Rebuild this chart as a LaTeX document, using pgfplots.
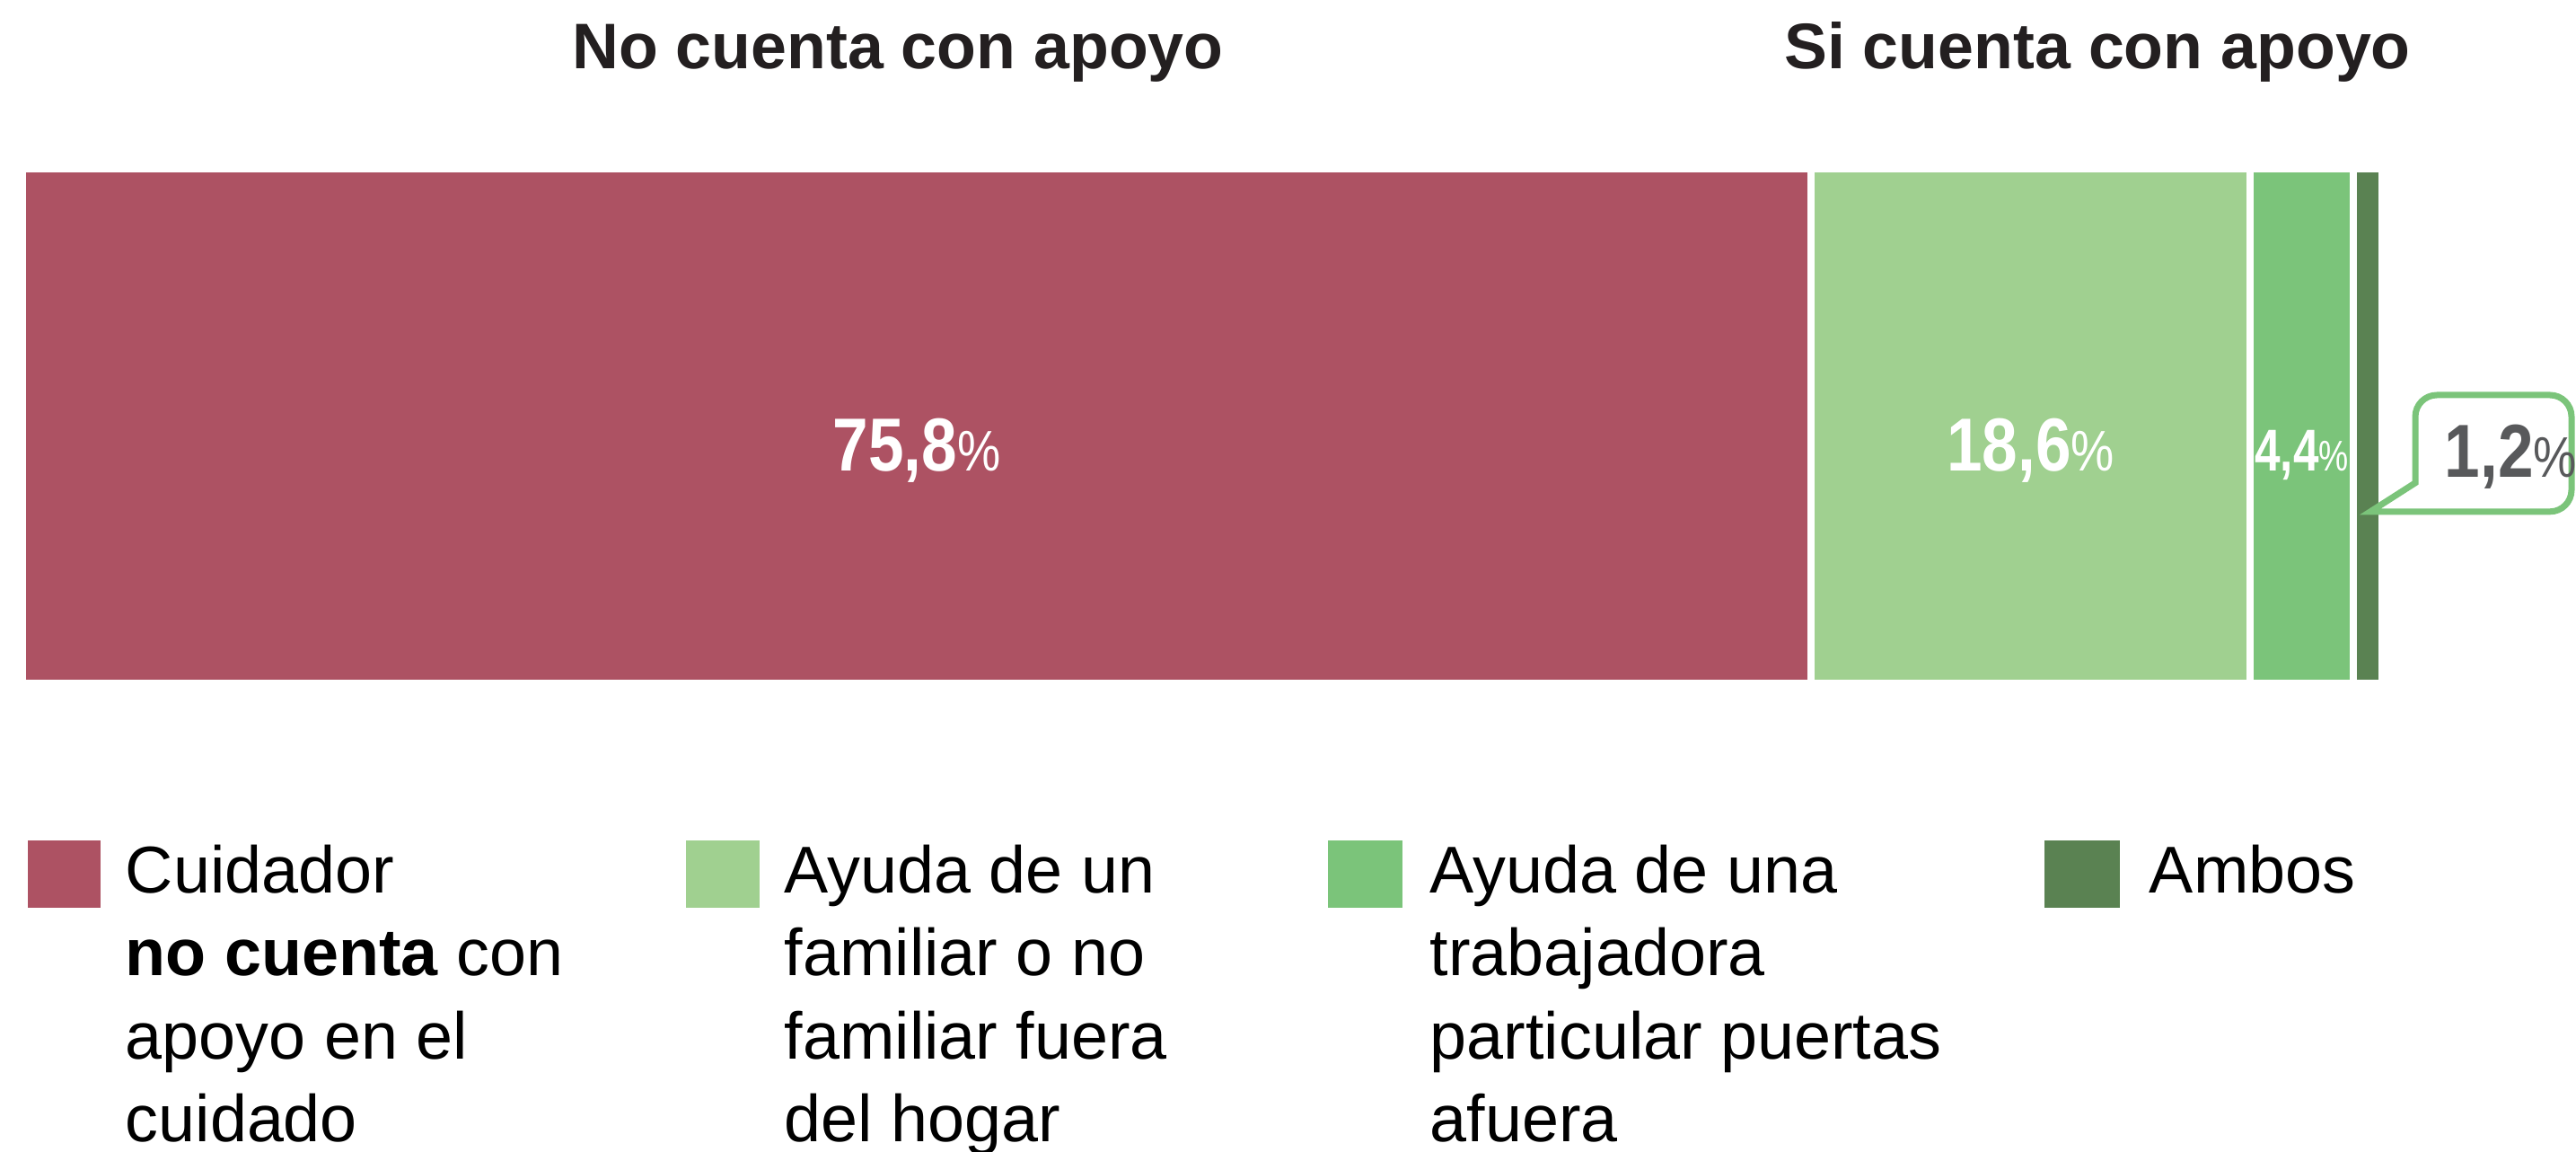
\documentclass[border=0pt]{standalone}
\usepackage{pgfplots}
\pgfplotsset{compat=1.18}
\usepackage{fontspec}
\setmainfont{Liberation Sans}
\newfontfamily\labfont[FakeStretch=0.85]{Liberation Sans}
\newfontfamily\narfont[FakeStretch=0.78]{Liberation Sans}
\definecolor{cMaroon}{HTML}{AD5263}
\definecolor{cLight}{HTML}{A0D090}
\definecolor{cMid}{HTML}{7BC47A}
\definecolor{cDark}{HTML}{5A8252}
\definecolor{cTitle}{HTML}{231F20}
\definecolor{cGray}{HTML}{58595B}
\begin{document}
\begin{tikzpicture}
\useasboundingbox (0,0) rectangle (717.25bp,320.75bp);
\begin{axis}[at={(6.25bp,0bp)}, anchor=south west, scale only axis,
  width=657bp, height=320.75bp, xmin=0, xmax=100, ymin=0, ymax=1283,
  hide axis, clip=false, xbar stacked, bar width=143.25bp]
\addplot[fill=cMaroon, draw=white, line width=2bp] coordinates {(75.8,808.5)};
\addplot[fill=cLight, draw=white, line width=2bp] coordinates {(18.6,808.5)};
\addplot[fill=cMid, draw=white, line width=2bp] coordinates {(4.4,808.5)};
\addplot[fill=cDark, draw=white, line width=2bp] coordinates {(1.2,808.5)};
\coordinate (l1) at (axis cs:37.9,758);
\coordinate (l2) at (axis cs:85.1,758);
\coordinate (l3) at (axis cs:96.6,758);
\end{axis}
\node[anchor=base, text=white, inner sep=0pt] at (l1) {\labfont\fontsize{21}{21}\selectfont\bfseries 75,8\fontsize{16}{16}\selectfont\mdseries\%};
\node[anchor=base, text=white, inner sep=0pt] at (l2) {\labfont\fontsize{21}{21}\selectfont\bfseries 18,6\fontsize{16}{16}\selectfont\mdseries\%};
\node[anchor=base, text=white, inner sep=0pt] at (l3) {\narfont\fontsize{16.5}{16.5}\selectfont\bfseries 4,4\fontsize{12}{12}\selectfont\mdseries\%};
% titles
\node[anchor=base, inner sep=0pt, text=cTitle, font=\fontsize{18}{18}\selectfont\bfseries] at (250bp,301.5bp) {No cuenta con apoyo};
\node[anchor=base, inner sep=0pt, text=cTitle, font=\fontsize{18}{18}\selectfont\bfseries] at (584bp,301.5bp) {Si cuenta con apoyo};
% callout
\draw[cMid, line width=1.75bp, fill=white, line join=miter] (660bp,178.3bp) -- (672.5bp,186.3bp) -- (672.5bp,204.75bp) arc[start angle=180, end angle=90, radius=6bp] -- (710bp,210.75bp) arc[start angle=90, end angle=0, radius=6bp] -- (716bp,184.3bp) arc[start angle=0, end angle=-90, radius=6bp] -- cycle;
\node[anchor=base west, inner sep=0pt, text=cGray] at (680.5bp,187.75bp) {\labfont\fontsize{21}{21}\selectfont\bfseries 1,2\fontsize{16}{16}\selectfont\mdseries\%};
% legend swatches
\fill[cMaroon] (7.75bp,68bp) rectangle (28bp,86.75bp);
\fill[cLight] (191bp,68bp) rectangle (211.5bp,86.75bp);
\fill[cMid] (369.75bp,68bp) rectangle (390.5bp,86.75bp);
\fill[cDark] (569.25bp,68bp) rectangle (590.25bp,86.75bp);
% legend text
\begin{scope}[every node/.style={anchor=base west, inner sep=0pt, text=black, font=\fontsize{18.5}{23}\selectfont}]
\node at (34.75bp,72bp) {Cuidador};
\node at (34.75bp,49bp) {\textbf{no cuenta} con};
\node at (34.75bp,26bp) {apoyo en el};
\node at (34.75bp,3bp) {cuidado};
\node at (218.25bp,72bp) {Ayuda de un};
\node at (218.25bp,49bp) {familiar o no};
\node at (218.25bp,26bp) {familiar fuera};
\node at (218.25bp,3bp) {del hogar};
\node at (398bp,72bp) {Ayuda de una};
\node at (398bp,49bp) {trabajadora};
\node at (398bp,26bp) {particular puertas};
\node at (398bp,3bp) {afuera};
\node at (598.25bp,72bp) {Ambos};
\end{scope}
\end{tikzpicture}
\end{document}
